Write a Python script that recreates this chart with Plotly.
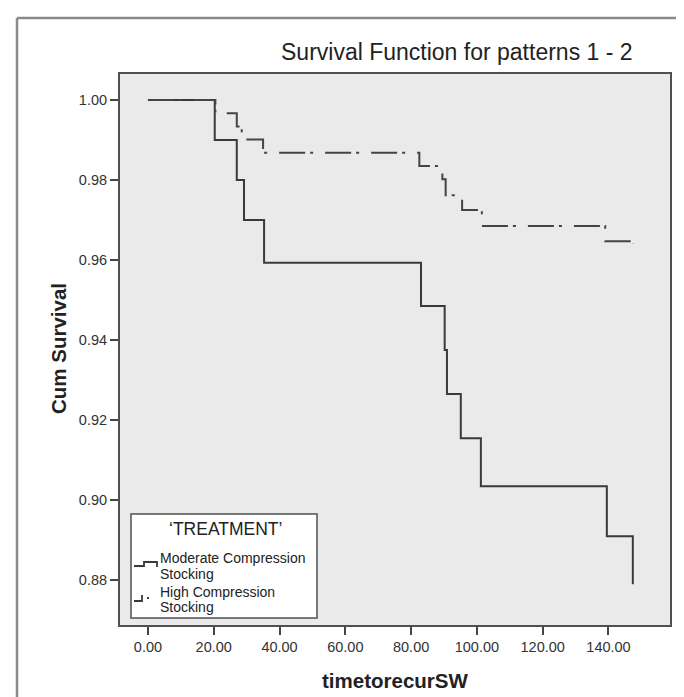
import plotly.graph_objects as go

# Data (Kaplan-Meier step curves)
moderate_time = [0, 20.3, 27.0, 29.2, 35.3, 83.0, 90.2, 90.9, 95.1, 101.2, 139.5, 147.4]
moderate_surv = [1.000, 0.990, 0.980, 0.970, 0.9593, 0.9485, 0.9375, 0.9265, 0.9155, 0.9035, 0.891, 0.879]

high_time = [0, 20.5, 27.0, 28.5, 35.0, 82.5, 89.5, 90.5, 95.5, 101.5, 139.0, 147.5]
high_surv = [1.000, 0.9967, 0.9934, 0.9901, 0.9868, 0.9835, 0.9802, 0.9762, 0.9725, 0.9685, 0.9647, 0.9640]

x_ticks = [0, 20, 40, 60, 80, 100, 120, 140]
x_tick_labels = ["0.00", "20.00", "40.00", "60.00", "80.00", "100.00", "120.00", "140.00"]
y_ticks = [0.88, 0.90, 0.92, 0.94, 0.96, 0.98, 1.00]
y_tick_labels = ["0.88", "0.90", "0.92", "0.94", "0.96", "0.98", "1.00"]

W, H = 684, 697
L, R, T, B = 112, 662, 66, 617
pw, ph = R - L, B - T

def px(x):
    return (x - L) / pw

def py(y):
    return (B - y) / ph

FONT = "Liberation Sans, Arial, sans-serif"
INK = "#333333"

fig = go.Figure()
fig.add_trace(go.Scatter(
    x=moderate_time, y=moderate_surv, mode="lines", line_shape="hv",
    line=dict(color="#3a3a3a", width=2), name="Moderate Compression Stocking",
    showlegend=False, hoverinfo="skip"))
fig.add_trace(go.Scatter(
    x=high_time, y=high_surv, mode="lines", line_shape="hv",
    line=dict(color="#444444", width=2, dash="26px,5px,3px,12px"),
    name="High Compression Stocking", showlegend=False, hoverinfo="skip"))

axis_common = dict(
    showgrid=False, zeroline=False, ticks="outside", ticklen=8, tickwidth=2,
    tickcolor="#444444", showline=True, linecolor="#505050", linewidth=2,
    mirror=True, tickfont=dict(family=FONT, size=14.5, color=INK),
)
fig.update_xaxes(range=[-8.5, 158.7], tickvals=x_ticks, ticktext=x_tick_labels, **axis_common)
fig.update_yaxes(range=[0.8688, 1.0065], tickvals=y_ticks, ticktext=y_tick_labels, **axis_common)

shapes = []
# outer frame (left and top edges visible)
shapes.append(dict(type="line", xref="paper", yref="paper", x0=px(9), x1=px(9), y0=py(10), y1=py(700),
                   line=dict(color="#8a8a8a", width=2.5)))
shapes.append(dict(type="line", xref="paper", yref="paper", x0=px(9), x1=px(690), y0=py(10), y1=py(10),
                   line=dict(color="#8a8a8a", width=2.5)))
# legend box
shapes.append(dict(type="rect", xref="paper", yref="paper", x0=px(123), x1=px(309), y0=py(610), y1=py(506),
                   fillcolor="white", line=dict(color="#505050", width=1.5), layer="above"))
# legend symbols
def path(points):
    s = "M " + " L ".join(f"{px(a):.5f},{py(b):.5f}" for a, b in points)
    return s
shapes.append(dict(type="path", xref="paper", yref="paper",
                   path=path([(126, 558), (136, 558), (136, 554), (149, 554), (149, 559)]),
                   line=dict(color="#3a3a3a", width=1.8), layer="above"))
shapes.append(dict(type="path", xref="paper", yref="paper",
                   path=path([(126, 593), (134, 593), (134, 587)]),
                   line=dict(color="#3a3a3a", width=1.8), layer="above"))
shapes.append(dict(type="line", xref="paper", yref="paper", x0=px(139), x1=px(141), y0=py(590), y1=py(590),
                   line=dict(color="#3a3a3a", width=2), layer="above"))

def label(text, x, y, size, anchor="left", bold=False, angle=0):
    return dict(text=f"<b>{text}</b>" if bold else text, xref="paper", yref="paper",
                x=px(x), y=py(y), xanchor=anchor, yanchor="middle", showarrow=False,
                textangle=angle, font=dict(family=FONT, size=size, color="#222222"))

annotations = [
    label("Survival Function for patterns 1 - 2", 449, 44, 23, "center"),
    label("Cum Survival", 50, 341, 20.5, "center", bold=True, angle=-90),
    label("timetorecurSW", 387, 672, 20.5, "center", bold=True),
    label("\u2018TREATMENT\u2019", 217, 521, 17.5, "center"),
    label("Moderate Compression", 150, 550, 14),
    label("Stocking", 150, 566, 14),
    label("High Compression", 150, 584, 14),
    label("Stocking", 150, 599, 14),
]

fig.update_layout(
    width=W, height=H, autosize=False,
    margin=dict(l=L, r=W - R, t=T, b=H - B, pad=0),
    paper_bgcolor="white", plot_bgcolor="#EAEAEA",
    shapes=shapes, annotations=annotations, showlegend=False,
)

fig.write_html("out.html")
